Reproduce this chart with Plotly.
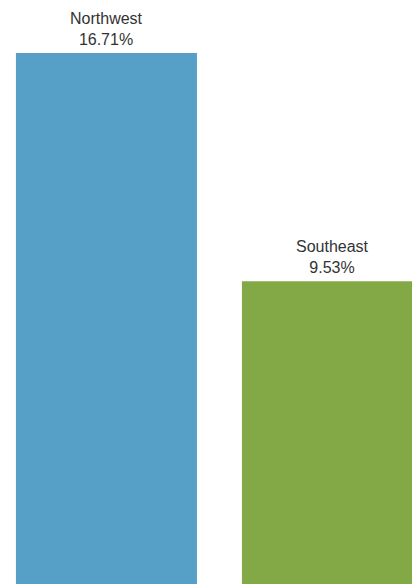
import plotly.graph_objects as go

regions = ["Northwest", "Southeast"]
shares = [16.71, 9.53]
colors = ["#56A0C7", "#83A846"]

fig = go.Figure(
    go.Bar(
        x=[0, 1],
        y=shares,
        width=0.801,
        marker=dict(color=colors, line=dict(width=0)),
        hoverinfo="skip",
    )
)

for i, (name, val) in enumerate(zip(regions, shares)):
    fig.add_annotation(
        x=i,
        y=val,
        text=f"{name}<br>{val:.2f}%",
        showarrow=False,
        yanchor="bottom",
        yshift=3,
        font=dict(family="Liberation Sans, Arial, sans-serif", size=16, color="#333333"),
        align="center",
    )

fig.update_layout(
    width=412,
    height=584,
    margin=dict(l=0, r=0, t=0, b=0),
    paper_bgcolor="white",
    plot_bgcolor="white",
    showlegend=False,
    xaxis=dict(range=[-0.471, 1.352], visible=False, fixedrange=True),
    yaxis=dict(range=[0, 18.378], visible=False, fixedrange=True),
)

fig.write_html("out.html", config={"displayModeBar": False})
